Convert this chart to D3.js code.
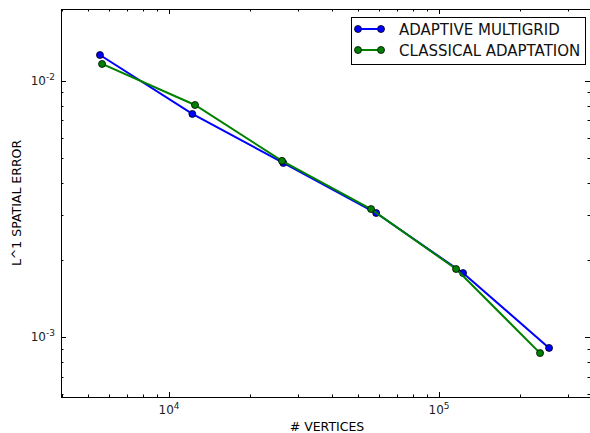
<!DOCTYPE html>
<html><head><meta charset="utf-8">
<script src="https://cdn.jsdelivr.net/npm/d3@7"></script>
<style>body{margin:0;background:#fff;} svg{display:block;font-family:"DejaVu Sans",sans-serif;}</style>
</head><body>
<svg id="c" width="590" height="433"></svg>
<script>
const seriesNames = ["ADAPTIVE MULTIGRID", "CLASSICAL ADAPTATION"];
const seriesColors = ["#0000ff", "#008000"];
const multigridX = [5550, 12200, 26500, 58500, 122700, 255500];
const multigridY = [0.01259, 0.00742, 0.00478, 0.00305, 0.00178, 0.000909];
const classicalX = [5650, 12480, 26200, 56000, 115600, 236600];
const classicalY = [0.01162, 0.00804, 0.00487, 0.00316, 0.001846, 0.000868];
const xTickExps = [4, 5];
const yTickExps = [-2, -3];
const xLabel = "# VERTICES";
const yLabel = "L^1 SPATIAL ERROR";

const svg = d3.select("#c");
const L = 61, R = 590, T = 9, B = 397;
const x = d3.scaleLog().domain([Math.pow(10, 3.6), Math.pow(10, 5.559)]).range([L, R]);
const y = d3.scaleLog().domain([Math.pow(10, -3.2326), Math.pow(10, -1.7207)]).range([B, T]);

const g = svg.append("g");
function minorTicks(dom) {
  const out = [];
  const lo = Math.floor(Math.log10(dom[0])), hi = Math.ceil(Math.log10(dom[1]));
  for (let e = lo; e <= hi; e++) for (let m = 1; m <= 9; m++) {
    const v = m * Math.pow(10, e);
    if (v >= dom[0] && v <= dom[1]) out.push({v, major: m === 1});
  }
  return out;
}
minorTicks(x.domain()).forEach(t => {
  const len = t.major ? 5 : 2.5, px = Math.round(x(t.v)) + 0.5;
  g.append("line").attr("x1", px).attr("x2", px).attr("y1", B).attr("y2", B - len).attr("stroke", "#000");
  g.append("line").attr("x1", px).attr("x2", px).attr("y1", T).attr("y2", T + len).attr("stroke", "#000");
});
minorTicks(y.domain()).forEach(t => {
  const len = t.major ? 5 : 2.5, py = Math.round(y(t.v)) + 0.5;
  g.append("line").attr("y1", py).attr("y2", py).attr("x1", L).attr("x2", L + len).attr("stroke", "#000");
  g.append("line").attr("y1", py).attr("y2", py).attr("x1", R).attr("x2", R - len).attr("stroke", "#000");
});

svg.append("rect").attr("x", L + 0.5).attr("y", T + 0.5).attr("width", R - L).attr("height", B - T)
  .attr("fill", "none").attr("stroke", "#000").attr("stroke-width", 1);

xTickExps.forEach(e => {
  const t = svg.append("text").attr("x", x(Math.pow(10, e))).attr("y", 414).attr("text-anchor", "middle")
    .attr("font-size", 12).attr("fill", "#222");
  t.append("tspan").text("10");
  t.append("tspan").attr("dy", -5).attr("font-size", 9).text(e);
});
yTickExps.forEach(e => {
  const t = svg.append("text").attr("x", 55).attr("y", y(Math.pow(10, e)) + 4).attr("text-anchor", "end")
    .attr("font-size", 12).attr("fill", "#222");
  t.append("tspan").text("10");
  t.append("tspan").attr("dy", -5).attr("font-size", 9).text(e);
});

svg.append("text").attr("x", 327).attr("y", 431).attr("text-anchor", "middle").attr("font-size", 12.5).text(xLabel);
svg.append("text").attr("transform", "translate(21,203) rotate(-90)").attr("text-anchor", "middle")
  .attr("font-size", 12.5).text(yLabel);

const data = [
  multigridX.map((v, i) => [v, multigridY[i]]),
  classicalX.map((v, i) => [v, classicalY[i]])
];
const line = d3.line().x(d => x(d[0])).y(d => y(d[1]));
data.forEach((pts, i) => {
  svg.append("path").attr("d", line(pts)).attr("fill", "none").attr("stroke", seriesColors[i]).attr("stroke-width", 2);
  svg.selectAll(null).data(pts).enter().append("circle")
    .attr("cx", d => x(d[0])).attr("cy", d => y(d[1])).attr("r", 3.5)
    .attr("fill", seriesColors[i]).attr("stroke", "#000").attr("stroke-width", 0.8);
});

const lg = svg.append("g");
lg.append("rect").attr("x", 351.5).attr("y", 17.5).attr("width", 234).attr("height", 47)
  .attr("fill", "#fff").attr("stroke", "#000").attr("stroke-width", 1);
seriesNames.forEach((n, i) => {
  const cy = 29 + i * 21;
  lg.append("line").attr("x1", 358).attr("x2", 381).attr("y1", cy).attr("y2", cy).attr("stroke", seriesColors[i]).attr("stroke-width", 2);
  [358, 381].forEach(cx => lg.append("circle").attr("cx", cx).attr("cy", cy).attr("r", 3.5)
    .attr("fill", seriesColors[i]).attr("stroke", "#000").attr("stroke-width", 0.8));
  lg.append("text").attr("x", 399).attr("y", cy + 5.5).attr("font-size", 15).attr("fill", "#111").text(n);
});
</script>
</body></html>
